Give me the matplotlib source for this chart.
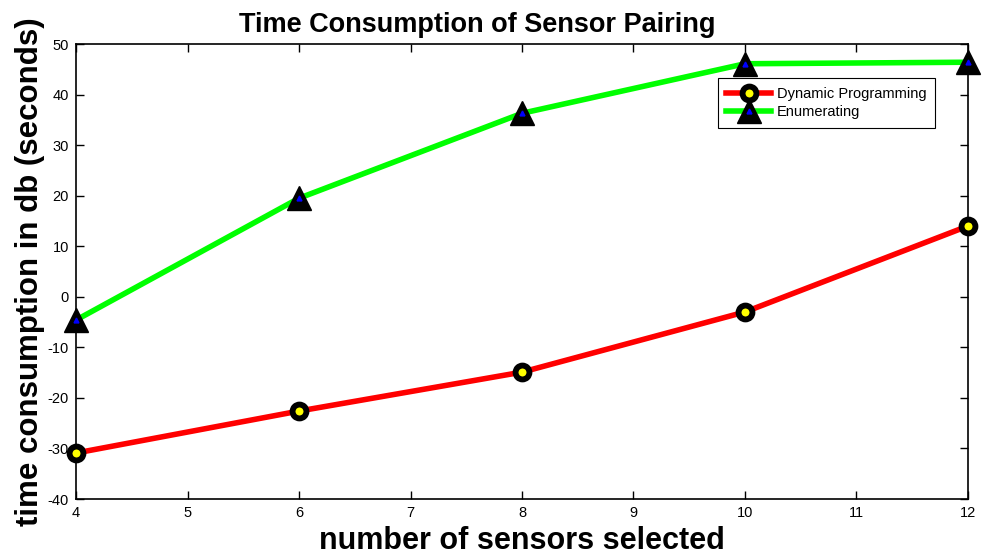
import matplotlib
matplotlib.use('Agg')
import matplotlib.pyplot as plt
from matplotlib.legend_handler import HandlerTuple

plt.rcParams['font.family'] = ['Liberation Sans', 'DejaVu Sans']
plt.rcParams['axes.unicode_minus'] = False

# Data
sensors = [4, 6, 8, 10, 12]
dynamic_prog = [-30.9, -22.6, -14.9, -3.0, 14.0]
enumerating = [-4.6, 19.5, 36.3, 46.1, 46.4]

fig = plt.figure(figsize=(9.85, 5.58), dpi=100)
ax = fig.add_axes([0.0772, 0.1057, 0.9055, 0.8154])

dp_line, = ax.plot(sensors, dynamic_prog, '-o', color='red', linewidth=4,
                   markersize=10, markerfacecolor='yellow', markeredgecolor='black',
                   markeredgewidth=4.2, clip_on=False, zorder=3)
en_line, = ax.plot(sensors, enumerating, '-^', color='#00ff00', linewidth=4,
                   markersize=17, markerfacecolor='black', markeredgecolor='black',
                   clip_on=False, zorder=3)
en_dot, = ax.plot(sensors, enumerating, '^', color='blue', markersize=3.5,
                  linestyle='none', clip_on=False, zorder=4)

ax.set_xlim(4, 12)
ax.set_ylim(-40, 50)
ax.set_xticks(range(4, 13))
ax.set_yticks(range(-40, 51, 10))
ax.tick_params(direction='in', top=True, right=True, length=6, width=1,
               labelsize=10.5, pad=5)
for s in ax.spines.values():
    s.set_linewidth(1.2)

fig.text(0.485, 0.943, 'Time Consumption of Sensor Pairing', fontsize=19.5,
         fontweight='bold', ha='center', va='baseline')
ax.set_xlabel('number of sensors selected', fontsize=22, fontweight='bold', labelpad=4)
ax.set_ylabel('time consumption in db (seconds)', fontsize=22.5, fontweight='bold', labelpad=2)

leg = ax.legend([dp_line, (en_line, en_dot)], ['Dynamic Programming', 'Enumerating'],
                handler_map={tuple: HandlerTuple(ndivide=1)},
                loc='upper right', bbox_to_anchor=(0.963, 0.925), fontsize=10.5,
                frameon=True, fancybox=False, edgecolor='black', framealpha=1,
                borderpad=0.6, labelspacing=0.3, handlelength=3.1,
                handletextpad=0.35, borderaxespad=0)
leg.get_frame().set_linewidth(0.8)

fig.savefig('out.png', dpi=100)
